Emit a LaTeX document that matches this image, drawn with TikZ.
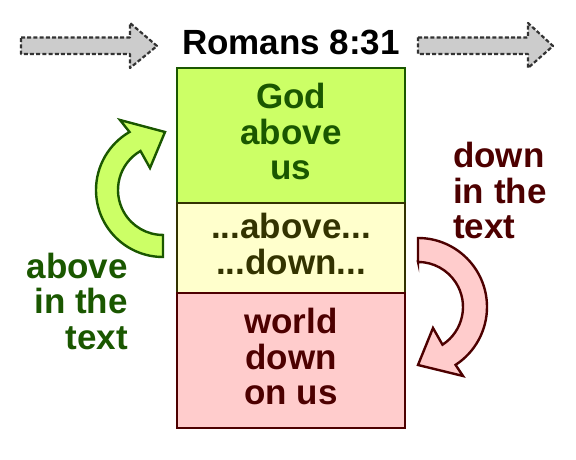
\documentclass[tikz,border=0pt]{standalone}
\usepackage{fontspec}
\setmainfont{Liberation Sans}
\usepackage{xcolor}
\usepackage{tikz}
\usetikzlibrary{positioning}

\definecolor{limefill}{RGB}{204,255,102}
\definecolor{leafgreen}{RGB}{26,87,0}
\definecolor{creamfill}{RGB}{255,255,204}
\definecolor{olivedark}{RGB}{51,51,0}
\definecolor{pinkfill}{RGB}{255,204,204}
\definecolor{maroondark}{RGB}{77,0,0}
\definecolor{greyfill}{RGB}{204,204,204}
\definecolor{greydash}{RGB}{51,51,51}

\begin{document}
\begin{tikzpicture}[x=1pt, y=1pt]
\tikzstyle{bigtext}=[font=\fontsize{35}{35.5}\selectfont\bfseries, inner sep=0pt]
\tikzstyle{panel}=[bigtext, draw, line width=2.4pt, outer sep=0pt, minimum width=228pt, align=center, text depth=8pt]
\tikzstyle{greyarrow}=[fill=greyfill, draw=greydash, line width=2.2pt, dash pattern=on 4pt off 2.2pt, line join=round]
\tikzstyle{turn}=[line width=2.4pt, line join=miter]
\useasboundingbox (0,0) rectangle (576,460);

% the three panels, stacked
\node[panel, fill=limefill, draw=leafgreen, text=leafgreen, minimum height=135pt] (god) at (291,324.5) {God\\above\\us};
\node[panel, fill=creamfill, draw=olivedark, text=olivedark, minimum height=90pt, below=0pt of god] (mid) {...above...\\...down...};
\node[panel, fill=pinkfill, draw=maroondark, text=maroondark, minimum height=135pt, below=0pt of mid] (world) {world\\down\\on us};

\node[bigtext, above=13pt of god] (title) {Romans 8:31};

% reading direction
\draw[greyarrow] (21,422.5) -- (130,422.5) -- (130,437) -- (157,414)
    -- (130,392) -- (130,406) -- (21,406) -- cycle;
\draw[greyarrow] (418,422.5) -- (528,422.5) -- (528,437) -- (553,414)
    -- (528,392) -- (528,406) -- (418,406) -- cycle;

% turning arrows
\draw[turn, fill=limefill, draw=leafgreen] (163,225) -- (163,203)
    arc[start angle=270, end angle=120, radius=67]
    -- (120,340) -- (165,328) -- (150,292)
    -- (140.5,309) arc[start angle=120, end angle=270, radius=45] -- cycle;
\draw[turn, fill=pinkfill, draw=maroondark] (418,198) -- (418,222)
    arc[start angle=90, end angle=-57, radius=69]
    -- (463,84) -- (418,95) -- (433,132)
    -- (442.5,115.3) arc[start angle=-57, end angle=90, radius=45] -- cycle;

\node[bigtext, text=leafgreen, align=right, anchor=east] (upnote) at (128,159) {above\\in the\\text};
\node[bigtext, text=maroondark, align=left, anchor=west] (downnote) at (453,269.5) {down\\in the\\text};

\end{tikzpicture}
\end{document}
